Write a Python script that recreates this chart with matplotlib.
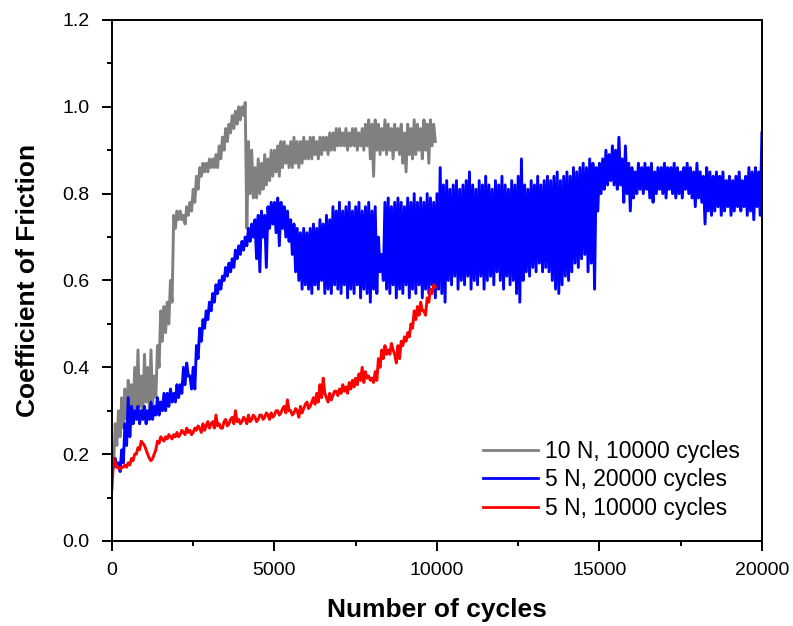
import numpy as np
import matplotlib
matplotlib.use("Agg")
import matplotlib.pyplot as plt
from matplotlib.ticker import MultipleLocator, FormatStrFormatter

plt.rcParams['font.family'] = ['Liberation Sans', 'DejaVu Sans']

# each series is sampled as two readings per 100-cycle bin (y1 at the bin start, y2 half way)
labels = ["10 N, 10000 cycles", "5 N, 20000 cycles", "5 N, 10000 cycles"]
colors = ["#808080", "#0000ff", "#ff0000"]

# 10 N, 10000 cycles
gray_bins = np.arange(0, 10000, 100)
gray_y1 = [0.20, 0.27, 0.30, 0.33, 0.35, 0.37, 0.36, 0.40, 0.44, 0.38,
           0.43, 0.40, 0.44, 0.38, 0.45, 0.53, 0.54, 0.55, 0.60, 0.75,
           0.76, 0.76, 0.75, 0.77, 0.78, 0.81, 0.84, 0.86, 0.87, 0.87,
           0.88, 0.88, 0.89, 0.91, 0.93, 0.95, 0.96, 0.98, 0.99, 1.00,
           1.00, 1.01, 0.92, 0.90, 0.86, 0.88, 0.87, 0.89, 0.88, 0.90,
           0.90, 0.91, 0.92, 0.92, 0.91, 0.92, 0.93, 0.92, 0.92, 0.93,
           0.92, 0.93, 0.93, 0.92, 0.93, 0.93, 0.93, 0.94, 0.94, 0.95,
           0.95, 0.94, 0.95, 0.94, 0.95, 0.95, 0.94, 0.95, 0.96, 0.97,
           0.96, 0.97, 0.96, 0.95, 0.97, 0.96, 0.95, 0.96, 0.95, 0.96,
           0.94, 0.96, 0.95, 0.97, 0.96, 0.95, 0.97, 0.96, 0.97, 0.96]
gray_y2 = [0.17, 0.22, 0.24, 0.26, 0.28, 0.30, 0.29, 0.30, 0.31, 0.29,
           0.32, 0.30, 0.31, 0.33, 0.40, 0.46, 0.48, 0.50, 0.55, 0.72,
           0.74, 0.74, 0.73, 0.75, 0.76, 0.78, 0.81, 0.84, 0.85, 0.85,
           0.86, 0.86, 0.86, 0.88, 0.90, 0.92, 0.94, 0.95, 0.96, 0.97,
           0.98, 0.72, 0.80, 0.79, 0.79, 0.80, 0.81, 0.82, 0.83, 0.84,
           0.85, 0.84, 0.86, 0.87, 0.86, 0.86, 0.87, 0.86, 0.87, 0.88,
           0.88, 0.88, 0.89, 0.88, 0.89, 0.90, 0.89, 0.90, 0.90, 0.91,
           0.91, 0.91, 0.90, 0.91, 0.91, 0.90, 0.91, 0.90, 0.91, 0.88,
           0.84, 0.90, 0.89, 0.90, 0.89, 0.90, 0.88, 0.90, 0.89, 0.87,
           0.85, 0.89, 0.88, 0.89, 0.90, 0.88, 0.90, 0.87, 0.91, 0.92]

# 5 N, 20000 cycles
blue_bins = np.arange(0, 20000, 100)
blue_y1 = [0.19, 0.19, 0.18, 0.21, 0.27, 0.33, 0.31, 0.30, 0.31, 0.30,
           0.31, 0.30, 0.32, 0.31, 0.33, 0.32, 0.34, 0.34, 0.35, 0.34,
           0.36, 0.36, 0.40, 0.41, 0.38, 0.40, 0.45, 0.49, 0.51, 0.53,
           0.55, 0.57, 0.59, 0.60, 0.61, 0.63, 0.64, 0.65, 0.67, 0.68,
           0.69, 0.70, 0.72, 0.73, 0.74, 0.75, 0.76, 0.75, 0.77, 0.78,
           0.78, 0.79, 0.78, 0.77, 0.76, 0.74, 0.73, 0.72, 0.71, 0.72,
           0.71, 0.72, 0.73, 0.72, 0.74, 0.73, 0.75, 0.74, 0.77, 0.76,
           0.78, 0.76, 0.77, 0.78, 0.76, 0.77, 0.78, 0.76, 0.77, 0.78,
           0.76, 0.77, 0.70, 0.66, 0.78, 0.79, 0.77, 0.78, 0.79, 0.78,
           0.77, 0.79, 0.78, 0.80, 0.78, 0.79, 0.78, 0.80, 0.79, 0.78,
           0.80, 0.86, 0.82, 0.83, 0.81, 0.82, 0.83, 0.81, 0.82, 0.83,
           0.85, 0.82, 0.81, 0.83, 0.82, 0.84, 0.82, 0.81, 0.83, 0.82,
           0.84, 0.82, 0.81, 0.83, 0.82, 0.84, 0.88, 0.82, 0.81, 0.83,
           0.82, 0.84, 0.82, 0.83, 0.84, 0.83, 0.84, 0.85, 0.83, 0.84,
           0.85, 0.84, 0.86, 0.85, 0.86, 0.87, 0.86, 0.88, 0.87, 0.86,
           0.87, 0.88, 0.90, 0.89, 0.91, 0.90, 0.93, 0.88, 0.91, 0.87,
           0.86, 0.85, 0.87, 0.86, 0.87, 0.86, 0.87, 0.85, 0.86, 0.86,
           0.87, 0.86, 0.86, 0.87, 0.86, 0.85, 0.86, 0.87, 0.86, 0.85,
           0.87, 0.85, 0.84, 0.86, 0.85, 0.84, 0.85, 0.84, 0.85, 0.83,
           0.84, 0.83, 0.84, 0.85, 0.83, 0.84, 0.86, 0.85, 0.86, 0.85]
blue_y2 = [0.17, 0.17, 0.16, 0.18, 0.22, 0.24, 0.27, 0.28, 0.27, 0.28,
           0.27, 0.28, 0.28, 0.29, 0.29, 0.30, 0.30, 0.31, 0.32, 0.32,
           0.33, 0.34, 0.36, 0.38, 0.35, 0.35, 0.42, 0.46, 0.49, 0.51,
           0.53, 0.55, 0.57, 0.58, 0.60, 0.61, 0.62, 0.63, 0.65, 0.66,
           0.67, 0.68, 0.69, 0.70, 0.65, 0.62, 0.70, 0.63, 0.72, 0.73,
           0.71, 0.68, 0.72, 0.70, 0.69, 0.66, 0.62, 0.60, 0.58, 0.59,
           0.58, 0.57, 0.59, 0.58, 0.60, 0.57, 0.58, 0.57, 0.59, 0.58,
           0.57, 0.59, 0.56, 0.58, 0.57, 0.59, 0.56, 0.58, 0.57, 0.55,
           0.58, 0.57, 0.62, 0.60, 0.58, 0.57, 0.59, 0.56, 0.58, 0.57,
           0.59, 0.56, 0.58, 0.57, 0.59, 0.56, 0.58, 0.57, 0.59, 0.56,
           0.58, 0.57, 0.55, 0.60, 0.59, 0.61, 0.58, 0.60, 0.59, 0.61,
           0.58, 0.60, 0.59, 0.61, 0.58, 0.60, 0.61, 0.59, 0.62, 0.60,
           0.58, 0.61, 0.59, 0.60, 0.57, 0.55, 0.60, 0.62, 0.61, 0.63,
           0.62, 0.64, 0.62, 0.63, 0.62, 0.60, 0.58, 0.57, 0.59, 0.61,
           0.60, 0.62, 0.64, 0.63, 0.65, 0.66, 0.62, 0.64, 0.58, 0.76,
           0.80, 0.81, 0.82, 0.83, 0.82, 0.81, 0.82, 0.78, 0.80, 0.76,
           0.79, 0.80, 0.81, 0.80, 0.81, 0.79, 0.78, 0.80, 0.81, 0.80,
           0.79, 0.81, 0.80, 0.79, 0.80, 0.79, 0.81, 0.80, 0.79, 0.77,
           0.79, 0.78, 0.73, 0.76, 0.75, 0.76, 0.77, 0.75, 0.76, 0.77,
           0.75, 0.76, 0.77, 0.76, 0.77, 0.75, 0.76, 0.74, 0.77, 0.75]
blue_last_cycle = 20000
blue_last_cof = 0.94

# 5 N, 10000 cycles
red_bins = np.arange(0, 10000, 100)
red_y1 = [0.12, 0.18, 0.17, 0.17, 0.175, 0.18, 0.19, 0.20, 0.215, 0.23,
          0.22, 0.20, 0.185, 0.20, 0.23, 0.24, 0.23, 0.235, 0.24, 0.245,
          0.25, 0.245, 0.25, 0.26, 0.255, 0.25, 0.255, 0.26, 0.27, 0.265,
          0.26, 0.275, 0.29, 0.27, 0.26, 0.28, 0.27, 0.285, 0.30, 0.28,
          0.275, 0.28, 0.29, 0.28, 0.285, 0.28, 0.29, 0.285, 0.29, 0.295,
          0.29, 0.30, 0.295, 0.31, 0.325, 0.30, 0.295, 0.30, 0.31, 0.305,
          0.32, 0.31, 0.33, 0.34, 0.36, 0.375, 0.33, 0.34, 0.335, 0.345,
          0.35, 0.36, 0.355, 0.365, 0.37, 0.375, 0.385, 0.40, 0.39, 0.38,
          0.375, 0.39, 0.42, 0.44, 0.45, 0.44, 0.455, 0.43, 0.45, 0.46,
          0.47, 0.48, 0.50, 0.53, 0.54, 0.55, 0.53, 0.56, 0.58, 0.59]
red_y2 = [0.19, 0.17, 0.165, 0.17, 0.17, 0.175, 0.185, 0.20, 0.21, 0.225,
          0.21, 0.19, 0.19, 0.21, 0.225, 0.235, 0.24, 0.245, 0.235, 0.24,
          0.24, 0.255, 0.245, 0.25, 0.245, 0.26, 0.265, 0.25, 0.255, 0.275,
          0.27, 0.26, 0.265, 0.26, 0.275, 0.265, 0.28, 0.27, 0.275, 0.27,
          0.285, 0.27, 0.275, 0.29, 0.275, 0.29, 0.28, 0.295, 0.28, 0.285,
          0.30, 0.29, 0.305, 0.295, 0.30, 0.29, 0.305, 0.285, 0.295, 0.315,
          0.305, 0.32, 0.315, 0.32, 0.33, 0.34, 0.32, 0.325, 0.345, 0.335,
          0.34, 0.345, 0.34, 0.35, 0.355, 0.36, 0.37, 0.365, 0.375, 0.37,
          0.365, 0.37, 0.40, 0.42, 0.43, 0.43, 0.44, 0.41, 0.42, 0.45,
          0.46, 0.47, 0.49, 0.51, 0.52, 0.53, 0.52, 0.55, 0.57, 0.585]


def zigzag(bins, y1, y2):
    # put the two readings of each bin one after the other
    x = np.column_stack([bins, bins + 50]).ravel()
    y = np.column_stack([y1, y2]).ravel()
    return x, y


fig = plt.figure(figsize=(7.93, 6.26), dpi=100)
ax = fig.add_axes([0.1412, 0.1358, 0.8196, 0.8323])

gx, gy = zigzag(gray_bins, gray_y1, gray_y2)
bx, by = zigzag(blue_bins, blue_y1, blue_y2)
bx = np.append(bx, blue_last_cycle)
by = np.append(by, blue_last_cof)
rx, ry = zigzag(red_bins, red_y1, red_y2)

ax.plot(gx, gy, color=colors[0], lw=2.1, label=labels[0])
ax.plot(bx, by, color=colors[1], lw=2.1, label=labels[1])
ax.plot(rx, ry, color=colors[2], lw=2.1, label=labels[2])

ax.set_xlim(0, 20000)
ax.set_ylim(0, 1.2)
ax.xaxis.set_major_locator(MultipleLocator(5000))
ax.xaxis.set_minor_locator(MultipleLocator(2500))
ax.yaxis.set_major_locator(MultipleLocator(0.2))
ax.yaxis.set_minor_locator(MultipleLocator(0.1))
ax.yaxis.set_major_formatter(FormatStrFormatter('%.1f'))

for s in ax.spines.values():
    s.set_linewidth(1.4)
ax.tick_params(which='major', direction='out', length=7, width=1.4, labelsize=14)
ax.tick_params(which='minor', direction='out', length=3.5, width=1.4)
ax.tick_params(axis='x', which='major', pad=8)
ax.tick_params(axis='y', which='major', pad=9)

ax.set_xlabel("Number of cycles", fontsize=19, fontweight='bold', labelpad=14)
ax.set_ylabel("Coefficient of Friction", fontsize=19, fontweight='bold', labelpad=16)

leg = ax.legend(loc='lower right', bbox_to_anchor=(0.966, 0.04), frameon=False,
                fontsize=16.5, handlelength=2.4, handletextpad=0.3,
                labelspacing=0.25, borderpad=0, borderaxespad=0)
for h in leg.get_lines():
    h.set_linewidth(2)

fig.savefig("out.png", dpi=100)
